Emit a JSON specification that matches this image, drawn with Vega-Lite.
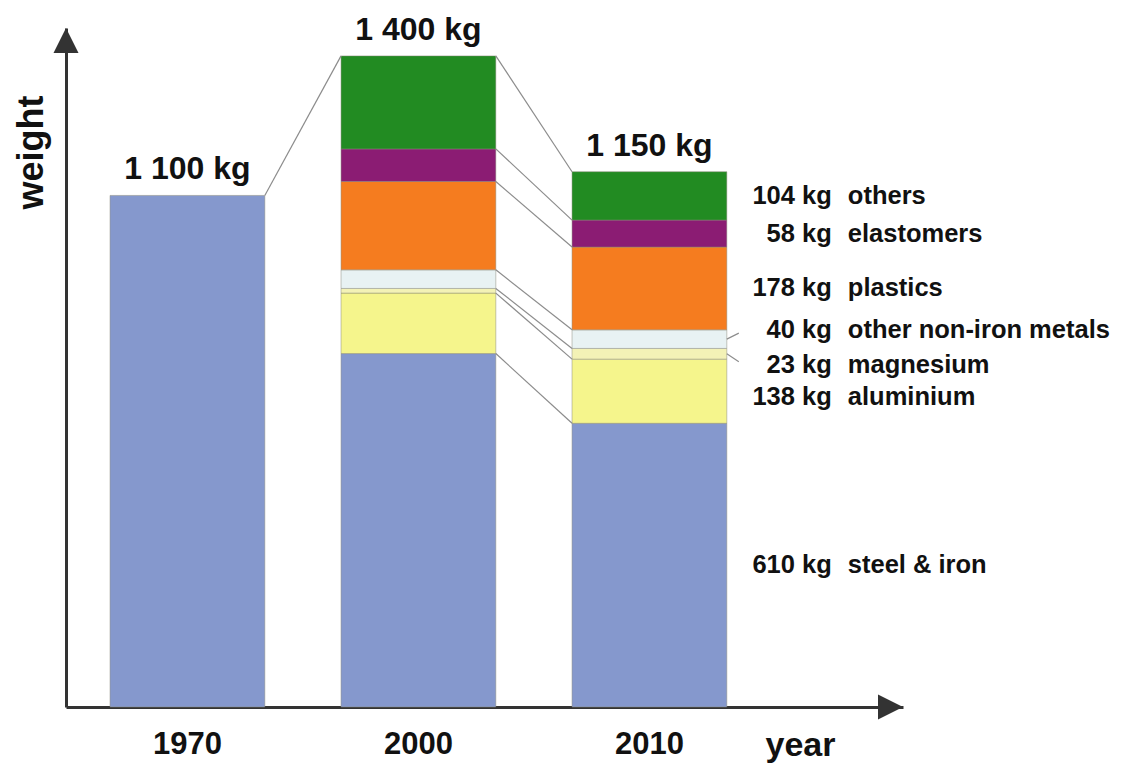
{
  "$schema": "https://vega.github.io/schema/vega-lite/v6.json",
  "width": 837,
  "height": 679,
  "autosize": {"type": "none"},
  "padding": {"left": 66, "top": 28, "right": 220, "bottom": 58},
  "background": "white",
  "config": {
    "view": {"stroke": null},
    "font": "Liberation Sans",
    "text": {"font": "Liberation Sans", "fontWeight": "bold", "color": "#111111"}
  },
  "datasets": {
    "parts": [
      {"year": "1970", "part": "total", "kg": 1100},
      {"year": "2000", "part": "steel & iron", "kg": 760},
      {"year": "2000", "part": "aluminium", "kg": 130},
      {"year": "2000", "part": "magnesium", "kg": 10},
      {"year": "2000", "part": "other non-iron metals", "kg": 40},
      {"year": "2000", "part": "plastics", "kg": 190},
      {"year": "2000", "part": "elastomers", "kg": 70},
      {"year": "2000", "part": "others", "kg": 200},
      {"year": "2010", "part": "steel & iron", "kg": 610},
      {"year": "2010", "part": "aluminium", "kg": 138},
      {"year": "2010", "part": "magnesium", "kg": 23},
      {"year": "2010", "part": "other non-iron metals", "kg": 40},
      {"year": "2010", "part": "plastics", "kg": 178},
      {"year": "2010", "part": "elastomers", "kg": 58},
      {"year": "2010", "part": "others", "kg": 104}
    ],
    "totals": [
      {"year": "1970", "total": 1100},
      {"year": "2000", "total": 1400},
      {"year": "2010", "total": 1150}
    ]
  },
  "layer": [
    {
      "data": {"name": "parts"},
      "transform": [
        {"calculate": "indexof(['total','steel & iron','aluminium','magnesium','other non-iron metals','plastics','elastomers','others'], datum.part)", "as": "rank"},
        {"stack": "kg", "groupby": ["year"], "sort": [{"field": "rank", "order": "ascending"}], "as": ["lo", "hi"]}
      ],
      "mark": {"type": "bar", "stroke": "#8a8a7a", "strokeWidth": 0.7, "strokeOpacity": 0.7},
      "encoding": {
        "x": {
          "field": "year",
          "type": "nominal",
          "scale": {"domain": ["1970", "2000", "2010"], "paddingInner": 0.33, "paddingOuter": 0.4767, "align": 0.2},
          "axis": {
            "title": "year",
            "titleFontSize": 34,
            "titleFontWeight": "bold",
            "titleColor": "#111111",
            "titleX": 734,
            "titleY": 48,
            "titleAlign": "center",
            "titleBaseline": "alphabetic",
            "labelAngle": 0,
            "labelFontSize": 31,
            "labelFontWeight": "bold",
            "labelColor": "#111111",
            "labelPadding": 22,
            "ticks": false,
            "tickSize": 0,
            "domainColor": "#333333",
            "domainWidth": 3
          }
        },
        "y": {
          "field": "lo",
          "type": "quantitative",
          "scale": {"domain": [0, 1460], "nice": false},
          "axis": {
            "title": "weight",
            "titleFontSize": 36,
            "titleFontWeight": "bold",
            "titleColor": "#111111",
            "titleAngle": -90,
            "titleX": -24,
            "titleY": 124,
            "titleAlign": "center",
            "titleBaseline": "alphabetic",
            "labels": false,
            "ticks": false,
            "grid": false,
            "domainColor": "#333333",
            "domainWidth": 3
          }
        },
        "y2": {"field": "hi"},
        "fill": {
          "field": "part",
          "type": "nominal",
          "scale": {
            "domain": ["total", "steel & iron", "aluminium", "magnesium", "other non-iron metals", "plastics", "elastomers", "others"],
            "range": ["#8598cd", "#8598cd", "#f5f58c", "#f3f2b6", "#e8f2f3", "#f57c1f", "#8b1c73", "#228b22"]
          },
          "legend": null
        }
      }
    },
    {
      "data": {"name": "parts"},
      "transform": [
        {"calculate": "indexof(['total','steel & iron','aluminium','magnesium','other non-iron metals','plastics','elastomers','others'], datum.part)", "as": "rank"},
        {"stack": "kg", "groupby": ["year"], "sort": [{"field": "rank", "order": "ascending"}], "as": ["lo", "hi"]},
        {"filter": "datum.year !== '1970'"},
        {"pivot": "year", "value": "hi", "groupby": ["part"]},
        {"calculate": "'2000'", "as": "a"},
        {"calculate": "'2010'", "as": "b"}
      ],
      "mark": {"type": "rule", "color": "#8c8c8c", "strokeWidth": 1.2},
      "encoding": {
        "x": {"field": "a", "type": "nominal", "bandPosition": 1},
        "x2": {"field": "b", "bandPosition": 0},
        "y": {"field": "2000", "type": "quantitative"},
        "y2": {"field": "2010"}
      }
    },
    {
      "data": {"name": "totals"},
      "transform": [
        {"pivot": "year", "value": "total"},
        {"calculate": "'1970'", "as": "a"},
        {"calculate": "'2000'", "as": "b"}
      ],
      "mark": {"type": "rule", "color": "#8c8c8c", "strokeWidth": 1.2},
      "encoding": {
        "x": {"field": "a", "type": "nominal", "bandPosition": 1},
        "x2": {"field": "b", "bandPosition": 0},
        "y": {"field": "1970", "type": "quantitative"},
        "y2": {"field": "2000"}
      }
    },
    {
      "data": {"name": "totals"},
      "transform": [
        {"calculate": "replace(format(datum.total, ','), ',', ' ') + ' kg'", "as": "label"}
      ],
      "mark": {"type": "text", "baseline": "alphabetic", "align": "center", "dy": -16, "fontSize": 32},
      "encoding": {
        "x": {"field": "year", "type": "nominal"},
        "y": {"field": "total", "type": "quantitative"},
        "text": {"field": "label"}
      }
    },
    {
      "data": {"name": "parts"},
      "transform": [
        {"calculate": "indexof(['total','steel & iron','aluminium','magnesium','other non-iron metals','plastics','elastomers','others'], datum.part)", "as": "rank"},
        {"stack": "kg", "groupby": ["year"], "sort": [{"field": "rank", "order": "ascending"}], "as": ["lo", "hi"]},
        {"filter": "datum.year === '2010'"},
        {"calculate": "(datum.lo + datum.hi) / 2", "as": "mid"},
        {"calculate": "datum.kg + ' kg'", "as": "amount"}
      ],
      "layer": [
        {
          "mark": {
            "type": "text",
            "align": "right",
            "baseline": "middle",
            "dx": 105,
            "fontSize": 25.5,
            "dy": {"expr": "datum.part === 'other non-iron metals' ? -9 : datum.part === 'magnesium' ? 11 : datum.part === 'aluminium' ? 6 : 0"}
          },
          "encoding": {
            "x": {"field": "year", "type": "nominal", "bandPosition": 1},
            "y": {"field": "mid", "type": "quantitative"},
            "text": {"field": "amount"}
          }
        },
        {
          "mark": {
            "type": "text",
            "align": "left",
            "baseline": "middle",
            "dx": 121,
            "fontSize": 25.5,
            "dy": {"expr": "datum.part === 'other non-iron metals' ? -9 : datum.part === 'magnesium' ? 11 : datum.part === 'aluminium' ? 6 : 0"}
          },
          "encoding": {
            "x": {"field": "year", "type": "nominal", "bandPosition": 1},
            "y": {"field": "mid", "type": "quantitative"},
            "text": {"field": "part"}
          }
        },
        {
          "transform": [{"filter": "datum.part === 'other non-iron metals' || datum.part === 'magnesium'"}],
          "mark": {
            "type": "rule",
            "color": "#8c8c8c",
            "strokeWidth": 1.2,
            "x2Offset": 12,
            "y2Offset": {"expr": "datum.part === 'magnesium' ? 8 : -6"}
          },
          "encoding": {
            "x": {"field": "year", "type": "nominal", "bandPosition": 1},
            "x2": {"field": "year", "bandPosition": 1},
            "y": {"field": "mid", "type": "quantitative"},
            "y2": {"field": "mid"}
          }
        }
      ]
    },
    {
      "data": {"values": [{"end": "top"}]},
      "mark": {"type": "point", "shape": "M0,0L1,2L-1,2Z", "size": 625, "filled": true, "color": "#333333", "opacity": 1},
      "encoding": {
        "x": {"value": 0},
        "y": {"value": 0}
      }
    },
    {
      "data": {"values": [{"end": "right"}]},
      "mark": {"type": "point", "shape": "M0,0L-2,-1L-2,1Z", "size": 625, "filled": true, "color": "#333333", "opacity": 1},
      "encoding": {
        "x": {"value": 837},
        "y": {"value": 679}
      }
    }
  ]
}
